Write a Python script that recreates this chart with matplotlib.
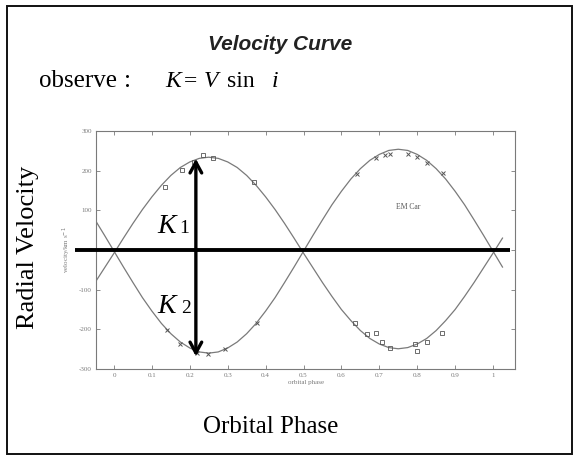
import matplotlib
matplotlib.use("Agg")
import matplotlib.pyplot as plt
from matplotlib.patches import Rectangle

W, H = 578, 457

# Fitted radial-velocity curves of the two components (km/s) vs orbital phase
phase = [-0.05, -0.025, 0.0, 0.025, 0.05, 0.075, 0.1, 0.125, 0.15, 0.175,
         0.2, 0.225, 0.25, 0.275, 0.3, 0.325, 0.35, 0.375, 0.4, 0.425,
         0.45, 0.475, 0.5, 0.525, 0.55, 0.575, 0.6, 0.625, 0.65, 0.675,
         0.7, 0.725, 0.75, 0.775, 0.8, 0.825, 0.85, 0.875, 0.9, 0.925,
         0.95, 0.975, 1.0, 1.025]
v_primary = [-82, -45, -8, 30, 67, 102, 134, 163, 188, 208,
             222, 231, 234, 231, 222, 208, 188, 163, 134, 102,
             67, 30, -8, -45, -82, -117, -150, -178, -203, -223,
             -237, -246, -249, -246, -237, -223, -203, -178, -150, -117,
             -82, -45, -8, 30]
v_secondary = [76, 37, -3, -43, -82, -120, -154, -185, -211, -232,
               -247, -257, -260, -257, -247, -232, -211, -185, -154, -120,
               -82, -43, -3, 37, 76, 114, 148, 179, 205, 226,
               241, 251, 254, 251, 241, 226, 205, 179, 148, 114,
               76, 37, -3, -43]

# Measured velocities
obs_phase_primary = [0.135, 0.18, 0.21, 0.235, 0.26, 0.37,
                     0.636, 0.667, 0.69, 0.707, 0.728, 0.794, 0.80, 0.826, 0.866]
obs_v_primary = [159, 201, 222, 239, 232, 171,
                 -184, -212, -210, -232, -247, -237, -255, -232, -209]
obs_phase_secondary = [0.14, 0.174, 0.219, 0.248, 0.293, 0.377,
                       0.64, 0.69, 0.715, 0.728, 0.776, 0.80, 0.826, 0.868]
obs_v_secondary = [-202, -237, -260, -262, -250, -184,
                   192, 232, 239, 241, 242, 234, 219, 194]

x_ticks = [0, 0.1, 0.2, 0.3, 0.4, 0.5, 0.6, 0.7, 0.8, 0.9, 1.0]
x_tick_labels = ["0", "0.1", "0.2", "0.3", "0.4", "0.5", "0.6", "0.7", "0.8", "0.9", "1"]
y_ticks = [-300, -200, -100, 0, 100, 200, 300]
y_tick_labels = ["-300", "-200", "-100", "0", "100", "200", "300"]

SERIF = "Liberation Serif"
SANS = "Liberation Sans"
GREY = "#7a7a7a"


def fx(px):
    return px / W


def fy(py):
    return 1 - py / H


fig = plt.figure(figsize=(W / 100, H / 100), dpi=100)
fig.patch.set_facecolor("white")

# slide frame
fig.add_artist(Rectangle((fx(7), fy(454)), fx(572) - fx(7), fy(6) - fy(454),
                         transform=fig.transFigure, fill=False,
                         edgecolor="#111111", lw=1.4))

# inner velocity plot
ax = fig.add_axes([fx(96), fy(369), fx(515) - fx(96), fy(131) - fy(369)])
ax.set_xlim(-0.0475, 1.058)
ax.set_ylim(-300, 300)
ax.plot(phase, v_primary, color=GREY, lw=0.9)
ax.plot(phase, v_secondary, color=GREY, lw=0.9)
ax.plot(obs_phase_primary, obs_v_primary, ls="none", marker="s", ms=2.6,
        mfc="none", mec="#555555", mew=0.6)
ax.plot(obs_phase_secondary, obs_v_secondary, ls="none", marker="x", ms=3.0,
        color="#555555", mew=0.7)
ax.set_xticks(x_ticks)
ax.set_xticklabels(x_tick_labels)
ax.set_yticks(y_ticks)
ax.set_yticklabels(y_tick_labels)
ax.tick_params(direction="in", length=3, width=0.6, colors=GREY,
               labelsize=5, top=True, right=True, pad=3)
for lab in ax.get_xticklabels() + ax.get_yticklabels():
    lab.set_fontfamily(SERIF)
for sp in ax.spines.values():
    sp.set_color(GREY)
    sp.set_linewidth(0.8)
ax.set_xlabel("orbital phase", fontsize=5, color=GREY, family=SERIF, labelpad=1)
ax.set_ylabel("velocity/km s$^{-1}$", fontsize=5, color=GREY, family=SERIF, labelpad=4)
ax.text(0.745, 0.68, "EM Car", transform=ax.transAxes, fontsize=5.5,
        color="#555555", family=SERIF, ha="center", va="center")

# zero-velocity line and the K1/K2 amplitude arrow
ax.plot([-0.103, 1.045], [0, 0], color="black", lw=2.8, clip_on=False,
        solid_capstyle="butt", zorder=5)
ax.annotate("", xy=(0.216, 230), xytext=(0.216, -268),
            arrowprops=dict(arrowstyle="<->,head_length=0.55,head_width=0.3",
                            color="black", lw=2.4, shrinkA=0, shrinkB=0,
                            mutation_scale=14),
            zorder=6)

# slide texts
fig.text(fx(280), fy(45), "Velocity Curve", ha="center", va="center",
         fontsize=15, fontweight="bold", fontstyle="italic", family=SANS,
         color="#222222")
fig.text(fx(39), fy(87), "observe", ha="left", va="baseline",
         fontsize=18, family=SERIF)
fig.text(fx(124), fy(87), ":", ha="left", va="baseline",
         fontsize=18, family=SERIF)
fig.text(fx(165), fy(87), "K", ha="left", va="baseline",
         fontsize=17, family=SERIF, fontstyle="italic")
fig.text(fx(184), fy(87), "=", ha="left", va="baseline",
         fontsize=17, family=SERIF)
fig.text(fx(204), fy(87), "V", ha="left", va="baseline",
         fontsize=17, family=SERIF, fontstyle="italic")
fig.text(fx(227), fy(87), "sin", ha="left", va="baseline",
         fontsize=17, family=SERIF)
fig.text(fx(272), fy(87), "i", ha="left", va="baseline",
         fontsize=17, family=SERIF, fontstyle="italic")

fig.text(fx(28), fy(247), "Radial Velocity", rotation=90, ha="center",
         va="center", fontsize=19, family=SERIF)
fig.text(fx(271), fy(427), "Orbital Phase", ha="center", va="center",
         fontsize=18, family=SERIF)

fig.text(fx(157), fy(233), "K", ha="left", va="baseline",
         fontsize=20, family=SERIF, fontstyle="italic")
fig.text(fx(179), fy(233), "1", ha="left", va="baseline",
         fontsize=14, family=SERIF)
fig.text(fx(157), fy(313), "K", ha="left", va="baseline",
         fontsize=20, family=SERIF, fontstyle="italic")
fig.text(fx(181), fy(313), "2", ha="left", va="baseline",
         fontsize=14, family=SERIF)

fig.savefig("out.png", dpi=100)
